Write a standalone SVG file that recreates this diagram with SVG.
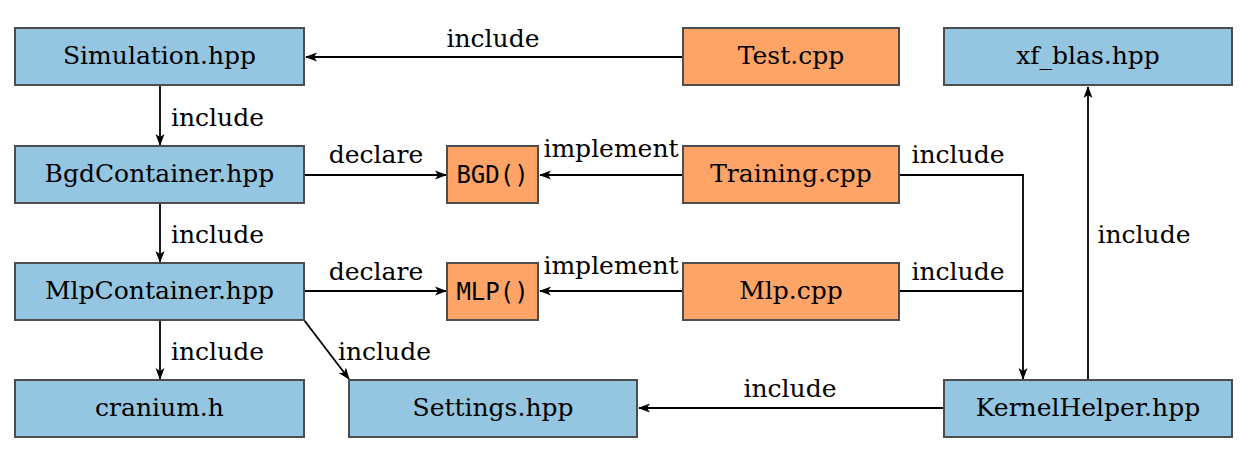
<svg xmlns="http://www.w3.org/2000/svg" width="1256" height="464" viewBox="0 0 1256 464">
<defs>
<marker id="arr" viewBox="0 0 12 10" refX="11" refY="5" markerWidth="12" markerHeight="10" markerUnits="userSpaceOnUse" orient="auto">
<path d="M0,0.5 L12,5 L0,9.5 L3,5 Z" fill="#000"/>
</marker>
<style>
.blue{fill:#94c5e1;stroke:#4d4d4d;stroke-width:2}
.orange{fill:#fda466;stroke:#4d4d4d;stroke-width:2}
.lbl{font-family:"DejaVu Serif",serif;font-size:25px;fill:#000;text-anchor:middle}
.mono{font-family:"DejaVu Sans Mono",monospace;font-size:24px;fill:#000;text-anchor:middle}
.el{font-family:"DejaVu Serif",serif;font-size:25px;fill:#000}
.edge{fill:none;stroke:#000;stroke-width:1.8}
</style>
</defs>
<rect width="1256" height="464" fill="#fff"/>
<g id="connectors">
<path class="edge" d="M683,57 H306" marker-end="url(#arr)"/>
<path class="edge" d="M160,86 V145" marker-end="url(#arr)"/>
<path class="edge" d="M160,203 V262" marker-end="url(#arr)"/>
<path class="edge" d="M160,320 V379" marker-end="url(#arr)"/>
<path class="edge" d="M304,320 L349,379" marker-end="url(#arr)"/>
<path class="edge" d="M304,175 H446" marker-end="url(#arr)"/>
<path class="edge" d="M304,291 H446" marker-end="url(#arr)"/>
<path class="edge" d="M683,175 H540" marker-end="url(#arr)"/>
<path class="edge" d="M683,291 H540" marker-end="url(#arr)"/>
<path class="edge" d="M899,175 H1023 V379" marker-end="url(#arr)"/>
<path class="edge" d="M899,291 H1023"/>
<path class="edge" d="M1088,380 V87" marker-end="url(#arr)"/>
<path class="edge" d="M944,408 H639" marker-end="url(#arr)"/>
<text class="el" x="493" y="47" text-anchor="middle">include</text>
<text class="el" x="171" y="126">include</text>
<text class="el" x="171" y="243">include</text>
<text class="el" x="171" y="360">include</text>
<text class="el" x="338" y="360">include</text>
<text class="el" x="376" y="163" text-anchor="middle">declare</text>
<text class="el" x="376" y="280" text-anchor="middle">declare</text>
<text class="el" x="611" y="157" text-anchor="middle">implement</text>
<text class="el" x="611" y="274" text-anchor="middle">implement</text>
<text class="el" x="958" y="163" text-anchor="middle">include</text>
<text class="el" x="958" y="280" text-anchor="middle">include</text>
<text class="el" x="1144" y="243" text-anchor="middle">include</text>
<text class="el" x="790" y="397" text-anchor="middle">include</text>
</g>
<g id="simulation"><rect class="blue" x="15" y="28" width="289" height="57"/><text class="lbl" x="159.5" y="64">Simulation.hpp</text></g>
<g id="bgdcontainer"><rect class="blue" x="15" y="146" width="289" height="57"/><text class="lbl" x="159.5" y="182">BgdContainer.hpp</text></g>
<g id="mlpcontainer"><rect class="blue" x="15" y="263" width="289" height="57"/><text class="lbl" x="159.5" y="299">MlpContainer.hpp</text></g>
<g id="cranium"><rect class="blue" x="15" y="380" width="289" height="57"/><text class="lbl" x="159.5" y="416">cranium.h</text></g>
<g id="settings"><rect class="blue" x="349" y="380" width="288" height="57"/><text class="lbl" x="493" y="416">Settings.hpp</text></g>
<g id="kernelhelper"><rect class="blue" x="944" y="380" width="288" height="57"/><text class="lbl" x="1088" y="416">KernelHelper.hpp</text></g>
<g id="xfblas"><rect class="blue" x="944" y="28" width="288" height="57"/><text class="lbl" x="1088" y="64">xf_blas.hpp</text></g>
<g id="test"><rect class="orange" x="683" y="28" width="216" height="57"/><text class="lbl" x="791" y="64">Test.cpp</text></g>
<g id="training"><rect class="orange" x="683" y="146" width="216" height="57"/><text class="lbl" x="791" y="182">Training.cpp</text></g>
<g id="mlpcpp"><rect class="orange" x="683" y="263" width="216" height="57"/><text class="lbl" x="791" y="299">Mlp.cpp</text></g>
<g id="bgd"><rect class="orange" x="447" y="146" width="91" height="57"/><text class="mono" x="492.5" y="183">BGD()</text></g>
<g id="mlp"><rect class="orange" x="447" y="263" width="91" height="57"/><text class="mono" x="492.5" y="300">MLP()</text></g>
</svg>
